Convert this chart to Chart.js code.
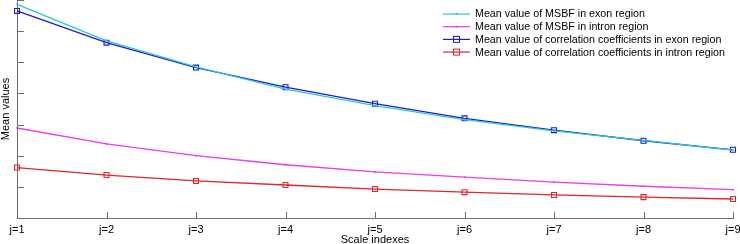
<!DOCTYPE html>
<html>
<head>
<meta charset="utf-8">
<script src="https://cdn.jsdelivr.net/npm/chart.js@4.4.0/dist/chart.umd.min.js"></script>
<style>
  html, body { margin: 0; padding: 0; background: #fff; }
</style>
</head>
<body>
<canvas id="myChart" width="740" height="244"></canvas>
<script>
const scaleLabels = ['j=1', 'j=2', 'j=3', 'j=4', 'j=5', 'j=6', 'j=7', 'j=8', 'j=9'];

const msbfExon   = [0.686, 0.569, 0.485, 0.414, 0.361, 0.316, 0.280, 0.249, 0.218];
const msbfIntron = [0.289, 0.238, 0.200, 0.171, 0.148, 0.131, 0.115, 0.102, 0.091];
const corrExon   = [0.665, 0.563, 0.483, 0.420, 0.367, 0.320, 0.282, 0.248, 0.219];
const corrIntron = [0.162, 0.138, 0.119, 0.106, 0.093, 0.083, 0.074, 0.067, 0.061];

const yTicks = [0, 0.1, 0.2, 0.3, 0.4, 0.5, 0.6, 0.7];

const FONT = '"Liberation Sans", Arial, sans-serif';

// matlab style ticks pointing into the plot
const innerTicks = {
  id: 'innerTicks',
  afterDatasetsDraw(chart) {
    const ctx = chart.ctx;
    const area = chart.chartArea;
    const x = chart.scales.x;
    const y = chart.scales.y;
    ctx.save();
    ctx.strokeStyle = '#6e6e6e';
    ctx.lineWidth = 1;
    ctx.beginPath();
    for (let i = 1; i < scaleLabels.length; i++) {
      let px = Math.round(x.getPixelForValue(i)) + 0.5;
      ctx.moveTo(px, area.bottom);
      ctx.lineTo(px, area.bottom - 6);
    }
    for (let i = 1; i < yTicks.length; i++) {
      let py = Math.round(y.getPixelForValue(yTicks[i])) + 0.5;
      ctx.moveTo(area.left, py);
      ctx.lineTo(area.left + 7, py);
    }
    ctx.stroke();
    ctx.restore();
  }
};

// legend drawn like the matlab one: short line with marker in the middle
const boxLegend = {
  id: 'boxLegend',
  afterDraw(chart) {
    const ctx = chart.ctx;
    const sets = chart.data.datasets;
    const x0 = 443, x1 = 470, tx = 475;
    ctx.save();
    ctx.font = '10.7px ' + FONT;
    ctx.textBaseline = 'middle';
    sets.forEach((ds, i) => {
      const yy = 14 + i * 12.7;
      ctx.strokeStyle = ds.borderColor;
      ctx.lineWidth = 1.2;
      ctx.beginPath();
      ctx.moveTo(x0, yy);
      ctx.lineTo(x1, yy);
      ctx.stroke();
      const mx = (x0 + x1) / 2;
      if (ds.pointStyle === 'rect') {
        ctx.lineWidth = 1;
        ctx.strokeRect(mx - 3, yy - 3, 6, 6);
      } else {
        ctx.fillStyle = ds.borderColor;
        ctx.fillRect(mx - 1, yy - 1, 2, 2);
      }
      ctx.fillStyle = '#000';
      ctx.fillText(ds.label, tx, yy + 0.5);
    });
    ctx.restore();
  }
};

const data = {
  labels: scaleLabels,
  datasets: [{
    label: 'Mean value of MSBF in exon region',
    data: msbfExon,
    borderColor: '#2cc9cc',
    backgroundColor: '#2cc9cc',
    borderWidth: 1.3,
    pointStyle: 'circle',
    pointRadius: 1,
    pointBorderWidth: 0
  }, {
    label: 'Mean value of MSBF in intron region',
    data: msbfIntron,
    borderColor: '#e83de8',
    backgroundColor: '#e83de8',
    borderWidth: 1.3,
    pointStyle: 'circle',
    pointRadius: 1,
    pointBorderWidth: 0
  }, {
    label: 'Mean value of correlation coefficients in exon region',
    data: corrExon,
    borderColor: '#1c1cc8',
    backgroundColor: 'rgba(0,0,0,0)',
    borderWidth: 1.3,
    pointStyle: 'rect',
    pointRadius: 3.5,
    pointBorderWidth: 1.1
  }, {
    label: 'Mean value of correlation coefficients in intron region',
    data: corrIntron,
    borderColor: '#e0262a',
    backgroundColor: 'rgba(0,0,0,0)',
    borderWidth: 1.3,
    pointStyle: 'rect',
    pointRadius: 3.5,
    pointBorderWidth: 1.1
  }]
};

const config = {
  type: 'line',
  data: data,
  options: {
    responsive: false,
    animation: false,
    layout: { padding: 0, autoPadding: false },
    elements: { line: { tension: 0 } },
    clip: false,
    plugins: {
      legend: { display: false },
      tooltip: { enabled: false }
    },
    scales: {
      x: {
        type: 'category',
        offset: false,
        afterFit: (s) => { s.height = 26; s.paddingRight = 7; },
        grid: { display: true, drawOnChartArea: false, drawTicks: false },
        border: { display: true, color: '#6e6e6e', width: 1 },
        ticks: {
          color: '#000',
          font: { family: FONT, size: 11, lineHeight: 1.1 },
          padding: 6,
          maxRotation: 0,
          autoSkip: false
        },
        title: {
          display: true,
          text: 'Scale indexes',
          color: '#000',
          font: { family: FONT, size: 11, lineHeight: 1.1 },
          padding: { top: 0, bottom: -2 }
        }
      },
      y: {
        min: 0,
        max: 0.7,
        afterFit: (s) => { s.width = 17; s.paddingTop = 0; s.paddingBottom = 0; },
        grid: { display: true, drawOnChartArea: false, drawTicks: false },
        border: { display: true, color: '#6e6e6e', width: 1 },
        ticks: { display: false, stepSize: 0.1 },
        title: {
          display: true,
          text: 'Mean values',
          color: '#000',
          font: { family: FONT, size: 11, lineHeight: 1.1 },
          padding: { top: 0, bottom: 4 }
        }
      }
    }
  },
  plugins: [innerTicks, boxLegend]
};

var myChart = new Chart(document.getElementById('myChart'), config);
</script>
</body>
</html>
